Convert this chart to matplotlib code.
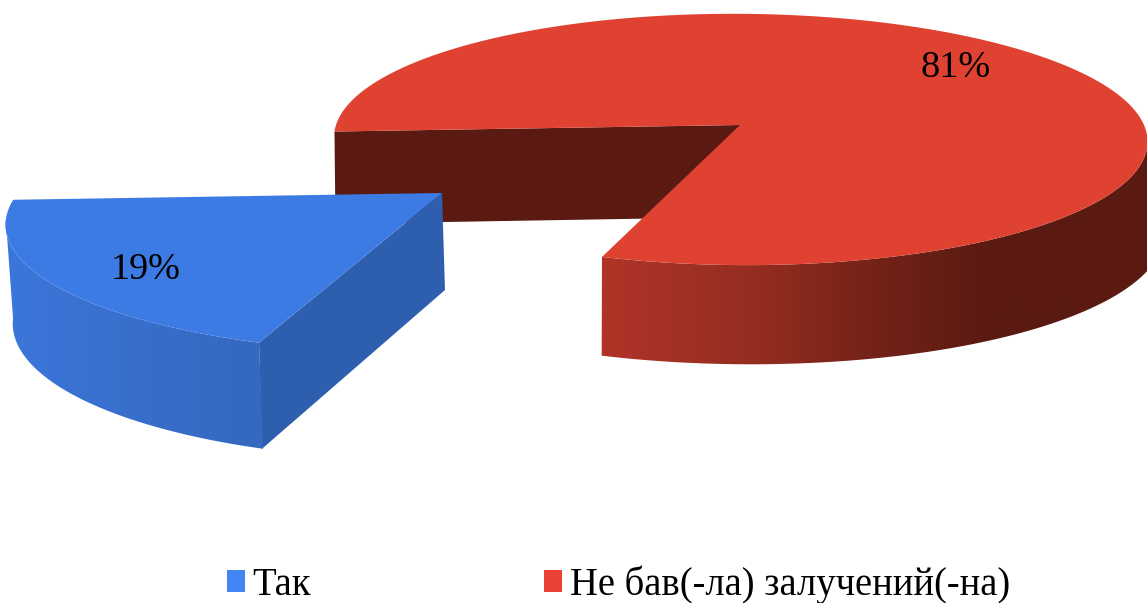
import numpy as np
import matplotlib
import matplotlib.pyplot as plt
from matplotlib.colors import to_rgb
from matplotlib.patches import Patch, Polygon

matplotlib.use("Agg")

labels = ["Так", "Не бав(-ла) залучений(-на)"]
shares = [19, 81]
share_text = ["19%", "81%"]
top_colors = ["#3D7BE4", "#E04232"]
legend_colors = ["#4285F4", "#EA4335"]

plt.rcParams["font.family"] = ["Liberation Serif", "DejaVu Serif"]

START = 183  # first slice starts here, running counter clockwise on screen

# per slice projection, in pixels: centre, radii, perspective, wall height
blue = dict(cx=442, cy=193, a=424, b=128, k=.2, skew=17, depth=97, gain=.4,
            grow=-.012, dx=2, wall_dx=3, z=5)
red = dict(cx=740, cy=125, a=404, b=124, k=.115, skew=-7, depth=92, gain=.6,
           grow=.03, dx=4, wall_dx=1, z=1)


def project(p, theta, bottom=False):
    t = np.radians(theta)
    w = 1 / (1 + p["k"] * np.sin(t))
    a = p["a"] * (1 + p["grow"]) if bottom else p["a"]
    x = p["cx"] + a * np.cos(t) * w + p["skew"] * np.sin(t)
    y = p["cy"] - p["b"] * np.sin(t) * w
    if bottom:
        y = y + p["depth"] * (1 + p["gain"] * (w - 1))
        x = x + p["dx"]
    return x, y


def side_angle(p):
    # how far below the horizontal the outline reaches its widest point
    return np.degrees(np.arcsin(p["k"]))


def wedge(ax, p, t0, t1, color):
    th = np.linspace(t0, t1, 300)
    x, y = project(p, th)
    ax.fill(np.r_[p["cx"], x], np.r_[p["cy"], y], color=color, lw=0, zorder=p["z"] + 2)


def radial_wall(ax, p, theta, color):
    x0, y0 = project(p, theta)
    _, y1 = project(p, theta, True)
    ax.fill([p["cx"], x0, x0 + p["wall_dx"], p["cx"] + p["wall_dx"]],
            [p["cy"], y0, y1, p["cy"] + p["depth"]],
            color=color, lw=0, zorder=p["z"])


def rim(ax, p, t0, t1, xstops, cstops):
    # side wall: a horizontal gradient clipped to the wall outline
    th = np.linspace(t0, t1, 300)
    xt, yt = project(p, th)
    xb, yb = project(p, th, True)
    rgb = np.array([to_rgb(c) for c in cstops])
    xs = np.arange(0, 1148)
    grad = np.stack([np.interp(xs, xstops, rgb[:, n]) for n in range(3)], axis=1)[None, :, :]
    im = ax.imshow(grad, extent=(0, 1147, 603, 0), aspect="auto", zorder=p["z"] + 1)
    outline = Polygon(np.c_[np.r_[xt, xb[::-1]], np.r_[yt, yb[::-1]]], closed=True,
                      transform=ax.transData)
    im.set_clip_path(outline)


fig = plt.figure(figsize=(11.47, 6.03), dpi=100)
ax = fig.add_axes([0, 0, 1, 1])

sweep = [s / sum(shares) * 360 for s in shares]
blue_end = START + sweep[0]
red_end = blue_end + sweep[1]

# red slice first, the blue one sits in front of it
radial_wall(ax, red, START, "#5A1A12")
rim(ax, red, blue_end, 360 - side_angle(red),
    [602, 760, 850, 990], ["#B03428", "#932D20", "#7A2419", "#5A1A12"])
wedge(ax, red, blue_end, red_end, top_colors[1])

rim(ax, blue, 180 + side_angle(blue), blue_end, [10, 258], ["#3B76DA", "#3568BF"])
radial_wall(ax, blue, blue_end, "#2E5FAF")
wedge(ax, blue, START, blue_end, top_colors[0])

ax.set_xlim(0, 1147)
ax.set_ylim(603, 0)
ax.axis("off")

ax.text(146, 270, share_text[0], fontsize=27.5, ha="center", va="center", zorder=20)
ax.text(956, 68, share_text[1], fontsize=27.5, ha="center", va="center", zorder=20)

handles = [Patch(color=c, lw=0) for c in legend_colors]
ax.legend(handles, labels, ncol=2, frameon=False, fontsize=27.8,
          loc="lower left", bbox_to_anchor=(219 / 1147, -.014),
          handlelength=.47, handleheight=.47, handletextpad=.2,
          columnspacing=6.02, borderpad=.2, borderaxespad=0)

plt.savefig("out.png", dpi=100)
plt.close()
